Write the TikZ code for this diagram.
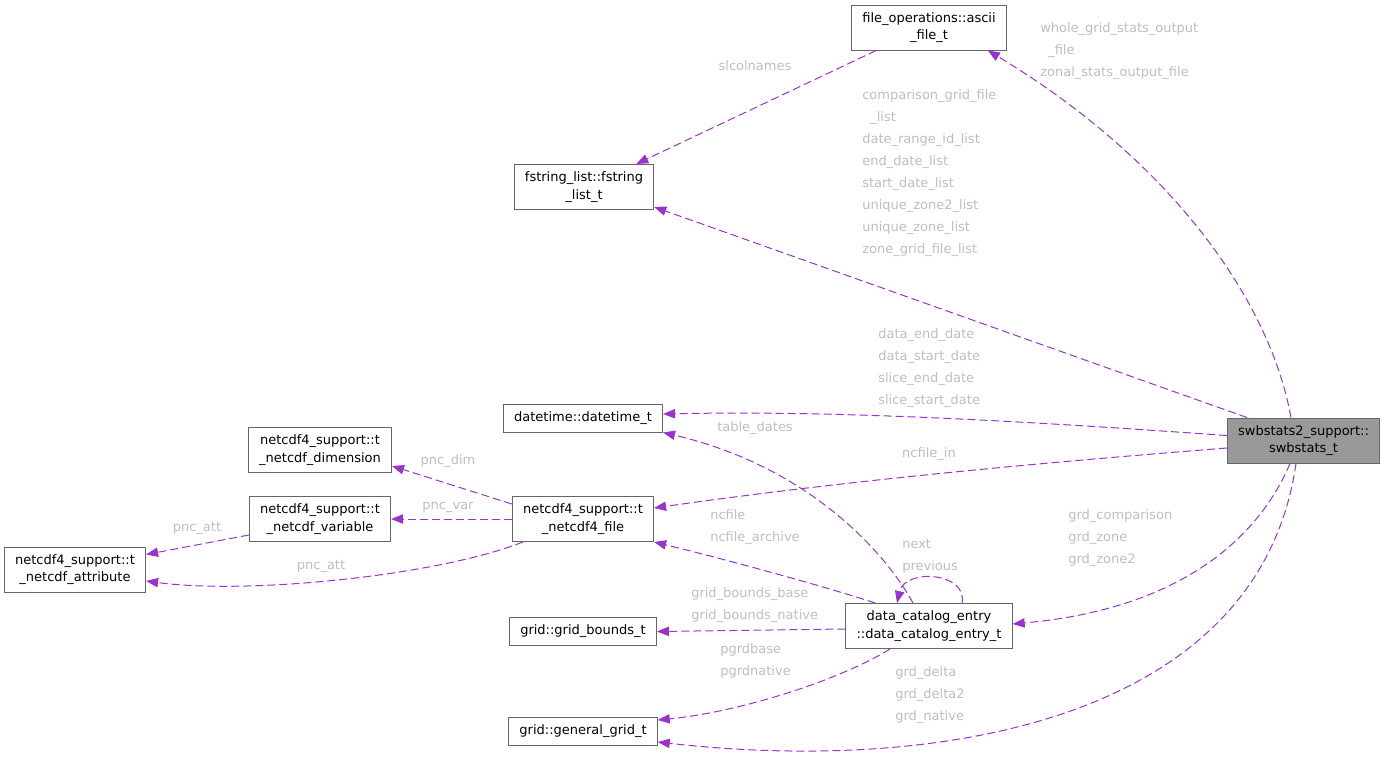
\documentclass[tikz,border=0pt]{standalone}
\usepackage{fontspec}
\setmainfont{DejaVu Sans}
\usetikzlibrary{arrows.meta,calc}

\definecolor{edgepurple}{HTML}{9A32CD}
\definecolor{lblgray}{HTML}{BEBEBE}
\definecolor{boxgray}{HTML}{666666}
\definecolor{maingray}{HTML}{999999}

\tikzset{
  cls/.style={draw=boxgray, line width=0.75pt, fill=white, align=center,
    inner xsep=8pt, inner ysep=0pt, font=\fontsize{9.75}{13}\selectfont},
  twoline/.style={minimum height=33.75pt},
  oneline/.style={minimum height=21pt},
  mainc/.style={fill=maingray},
  member/.style={draw=edgepurple, line width=0.75pt, dash pattern=on 6pt off 3pt,
    -{Triangle[length=9pt,width=7pt]}},
  mlabel/.style={text=lblgray, align=left, inner sep=0pt, anchor=west,
    font=\fontsize{9.75}{16.5}\selectfont},
}

\begin{document}
\begin{tikzpicture}[x=0.75pt, y=-0.75pt]
\useasboundingbox (0,0) rectangle (1384,757);
%%%%% Classes %%%%%
\node[cls, twoline] (ascii) at (929,27.5) {file\_operations::ascii\\\_file\_t};
\node[cls, twoline] (fstr) at (584,187) {fstring\_list::fstring\\\_list\_t};
\node[cls, oneline] (dtime) at (583,418) {datetime::datetime\_t};
\node[cls, twoline] (ncdim) at (320,450) {netcdf4\_support::t\\\_netcdf\_dimension};
\node[cls, twoline] (ncvar) at (320,519) {netcdf4\_support::t\\\_netcdf\_variable};
\node[cls, twoline] (ncatt) at (75,569.5) {netcdf4\_support::t\\\_netcdf\_attribute};
\node[cls, twoline] (ncfile) at (583,519) {netcdf4\_support::t\\\_netcdf4\_file};
\node[cls, twoline, mainc] (swb) at (1303.5,440.5) {swbstats2\_support::\\swbstats\_t};
\node[cls, twoline] (dcat) at (929,626) {data\_catalog\_entry\\::data\_catalog\_entry\_t};
\node[cls, oneline] (gbounds) at (583,631.5) {grid::grid\_bounds\_t};
\node[cls, oneline] (ggrid) at (583,731) {grid::general\_grid\_t};

%%%%% Members of swbstats_t %%%%%
\draw[member] ($(swb.north west)+(64,0)$) .. controls (1270,300) and (1170,160) .. ($(ascii.south east)+(-19,0)$);
\draw[member] ($(swb.north west)+(20,0)$) -- ($(fstr.south east)+(0,-3)$);
\draw[member] ($(swb.west)+(0,-5)$) .. controls (1050,423) and (850,410) .. ($(dtime.east)+(0,-4)$);
\draw[member] ($(swb.west)+(0,7.5)$) .. controls (1050,462) and (850,480) .. ($(ncfile.east)+(0,-11)$);
\draw[member] ($(swb.south)+(-13.5,0)$) .. controls (1262,530) and (1190,608) .. ($(dcat.east)+(0,-2)$);
\draw[member] ($(swb.south)+(-7.5,0)$) .. controls (1260,715) and (950,775) .. ($(ggrid.east)+(0,11)$);

%%%%% Members of the other types %%%%%
\draw[member] ($(ascii.south west)+(25,0)$) -- ($(fstr.north east)+(-18,0)$);
\draw[member] ($(dcat.north)+(-16,0)$) .. controls (890,560) and (815,468) .. (dtime.south east);
\draw[member] ($(dcat.north)+(33,0)$) .. controls (968,572) and (905,568) .. ($(dcat.north)+(-32,0)$);
\draw[member] ($(dcat.north west)+(30,0)$) .. controls (820,585) and (720,558) .. (ncfile.south east);
\draw[member] ($(dcat.west)+(0,3)$) -- (gbounds.east);
\draw[member] ($(dcat.south)+(-39,0)$) .. controls (840,680) and (740,712) .. ($(ggrid.east)+(0,-11)$);
\draw[member] ($(ncfile.north west)+(0,8)$) -- ($(ncdim.south east)+(0,-7)$);
\draw[member] (ncfile.west) -- (ncvar.east);
\draw[member] ($(ncfile.south west)+(11,0)$) .. controls (440,575) and (250,595) .. ($(ncatt.east)+(0,11.5)$);
\draw[member] ($(ncvar.south west)+(0,-7)$) -- ($(ncatt.north east)+(0,8)$);

%%%%% Labels %%%%%
\node[mlabel] (lwhole) at (1040,51) {whole\_grid\_stats\_output\\\hspace*{6pt}\_file\\zonal\_stats\_output\_file};
\node[mlabel, anchor=center] (lslcol) at (755,66) {slcolnames};
\node[mlabel] (llists) at (862,173) {comparison\_grid\_file\\\hspace*{6pt}\_list\\date\_range\_id\_list\\end\_date\_list\\start\_date\_list\\unique\_zone2\_list\\unique\_zone\_list\\zone\_grid\_file\_list};
\node[mlabel] (ldates) at (878,368.5) {data\_end\_date\\data\_start\_date\\slice\_end\_date\\slice\_start\_date};
\node[mlabel, anchor=center] (ltable) at (755,428) {table\_dates};
\node[mlabel, anchor=center] (lncin) at (929,454) {ncfile\_in};
\node[mlabel] (lnext) at (902,556) {next\\previous};
\node[mlabel] (lncfile) at (710,527) {ncfile\\ncfile\_archive};
\node[mlabel] (lbounds) at (691,605.5) {grid\_bounds\_base\\grid\_bounds\_native};
\node[mlabel] (lpgrd) at (720,660.5) {pgrdbase\\pgrdnative};
\node[mlabel] (lgrdzone) at (1068,538) {grd\_comparison\\grd\_zone\\grd\_zone2};
\node[mlabel] (lgrddelta) at (895,695) {grd\_delta\\grd\_delta2\\grd\_native};
\node[mlabel, anchor=center] (lpncdim) at (448,461) {pnc\_dim};
\node[mlabel, anchor=center] (lpncvar) at (448,507) {pnc\_var};
\node[mlabel, anchor=center] (lpncatt) at (197,528) {pnc\_att};
\node[mlabel, anchor=center] (lpncatt2) at (321,566) {pnc\_att};
\end{tikzpicture}
\end{document}
